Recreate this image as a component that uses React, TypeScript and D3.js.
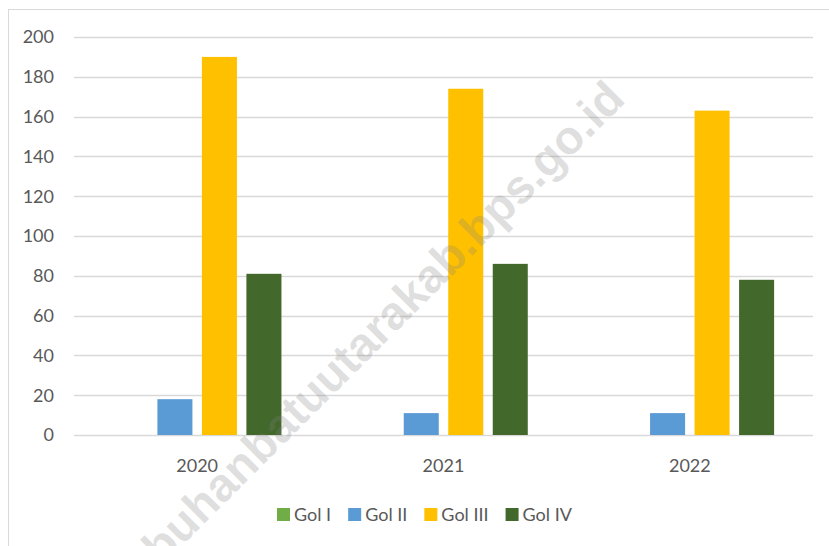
import { useEffect, useRef } from "react"
import * as d3 from "d3"

const years = ["2020", "2021", "2022"]
const series = ["Gol I", "Gol II", "Gol III", "Gol IV"]
const colors = ["#70AD47", "#5B9BD5", "#FFC000", "#43682B"]
const gol1 = [0, 0, 0]
const gol2 = [18, 11, 11]
const gol3 = [190, 174, 163]
const gol4 = [81, 86, 78]
const yTicks = [0, 20, 40, 60, 80, 100, 120, 140, 160, 180, 200]
const watermark = "labuhanbatuutarakab.bps.go.id"

const W = 829
const H = 546
const FONT = "Lato, Carlito, Calibri, sans-serif"

const App = () => {
  const ref = useRef<SVGSVGElement>(null)

  useEffect(() => {
    const svg = d3.select(ref.current)
    svg.selectAll("*").remove()

    const values = [gol1, gol2, gol3, gol4]
    const rows = years.map((y, i) => ({
      year: y,
      vals: series.map((s, j) => ({ key: s, value: values[j][i], color: colors[j] })),
    }))

    const left = 74
    const right = 813
    const top = 37
    const bottom = 435

    // chart border
    svg
      .append("rect")
      .attr("x", 8.5)
      .attr("y", 9.5)
      .attr("width", W)
      .attr("height", H)
      .attr("fill", "#fff")
      .attr("stroke", "#D9D9D9")

    const y = d3.scaleLinear().domain([0, 200]).range([bottom, top])
    const x0 = d3.scaleBand().domain(years).range([left, right]).padding(0)
    const x1 = d3
      .scaleBand()
      .domain(series)
      .range([0, x0.bandwidth()])
      .paddingInner(0.213)
      .paddingOuter(0.874)

    // gridlines
    svg
      .append("g")
      .selectAll("line")
      .data(yTicks)
      .join("line")
      .attr("x1", left)
      .attr("x2", right)
      .attr("y1", (d) => Math.round(y(d)) + 0.5)
      .attr("y2", (d) => Math.round(y(d)) + 0.5)
      .attr("stroke", "#D9D9D9")
      .attr("stroke-width", 1.3)

    // y labels
    svg
      .append("g")
      .selectAll("text")
      .data(yTicks)
      .join("text")
      .attr("x", 54)
      .attr("y", (d) => y(d))
      .attr("dy", "0.35em")
      .attr("text-anchor", "end")
      .attr("font-family", FONT)
      .attr("font-size", 18)
      .attr("fill", "#595959")
      .text((d) => d)

    // bars
    const groups = svg
      .append("g")
      .selectAll("g")
      .data(rows)
      .join("g")
      .attr("transform", (d) => `translate(${x0(d.year)},0)`)

    groups
      .selectAll("rect")
      .data((d) => d.vals)
      .join("rect")
      .attr("x", (d) => x1(d.key) as number)
      .attr("width", x1.bandwidth())
      .attr("y", (d) => y(d.value))
      .attr("height", (d) => bottom - y(d.value))
      .attr("fill", (d) => d.color)

    // x labels
    svg
      .append("g")
      .selectAll("text")
      .data(years)
      .join("text")
      .attr("x", (d) => (x0(d) as number) + x0.bandwidth() / 2)
      .attr("y", 472)
      .attr("text-anchor", "middle")
      .attr("font-family", FONT)
      .attr("font-size", 18)
      .attr("fill", "#595959")
      .text((d) => d)

    // legend
    const legend = svg.append("g")
    let lx = 277
    series.forEach((s, i) => {
      legend
        .append("rect")
        .attr("x", lx)
        .attr("y", 508)
        .attr("width", 13)
        .attr("height", 13)
        .attr("fill", colors[i])
      const t = legend
        .append("text")
        .attr("x", lx + 17)
        .attr("y", 521)
        .attr("font-family", FONT)
        .attr("font-size", 18)
        .attr("fill", "#595959")
        .text(s)
      const w = (t.node() as SVGTextElement).getComputedTextLength()
      lx += 17 + w + 17
    })

    // watermark (cut off at the bottom edge, as in the source image)
    svg
      .append("text")
      .attr("transform", "translate(627,101) rotate(-45)")
      .attr("text-anchor", "end")
      .attr("font-family", "Liberation Sans, Arial, sans-serif")
      .attr("font-weight", "bold")
      .attr("font-size", 47)
      .attr("fill", "rgba(128,128,128,0.25)")
      .text(watermark)
  }, [])

  return (
    <div style={{ position: "absolute", left: 0, top: 0 }}>
      <svg ref={ref} width={W} height={H} style={{ display: "block" }} />
    </div>
  )
}

export default App
